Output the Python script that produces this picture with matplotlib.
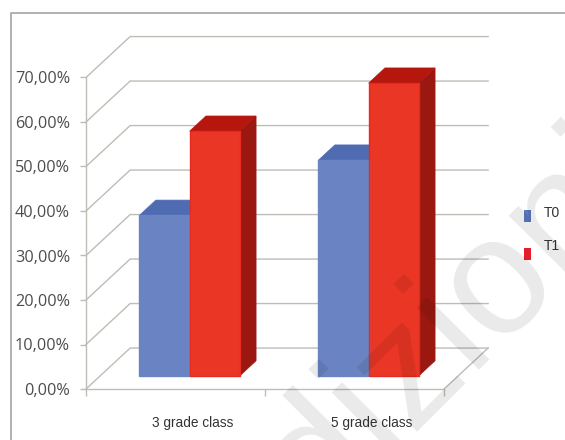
#!/usr/bin/env python3
"""Pseudo 3D column chart, T0 vs T1 by grade class"""

import matplotlib

matplotlib.use("Agg")
import matplotlib.pyplot as plt
from matplotlib.patches import Polygon, Rectangle

# Data
categories = ["3 grade class", "5 grade class"]
t0_values = [36.1, 48.5]
t1_values = [55.0, 65.8]
y_ticks = [0, 10, 20, 30, 40, 50, 60, 70]
y_tick_labels = ["0,00%", "10,00%", "20,00%", "30,00%", "40,00%", "50,00%", "60,00%", "70,00%"]
legend_labels = ["T0", "T1"]

W, H = 565, 440
GRID = "#bdbdb6"
TEXT = "#4d4d4d"

# how far the back wall sits from the front of the floor, in data units
DEPTH_X = 0.2465
DEPTH_Y = 9.2
BAR_W = 0.28
BAR_FRONT = 0.32
BAR_BACK = 0.69

fig = plt.figure(figsize=(W / 100, H / 100), dpi=100)
ax = fig.add_axes([86 / W, 1 - 389 / H, 358 / W, 311.5 / H])
ax.set_xlim(-0.5, 1.5)
ax.set_ylim(0, 70)
ax.patch.set_alpha(0)


def proj(x, y, d):
    """Shift a data point back by depth d (0 front, 1 back wall)"""
    return (x + DEPTH_X * d, y + DEPTH_Y * d)


def bar3d(left, value, front, top, side, edge):
    right = left + BAR_W
    quads = [
        ([(right, 0, BAR_FRONT), (right, 0, BAR_BACK), (right, value, BAR_BACK), (right, value, BAR_FRONT)], side),
        ([(left, value, BAR_FRONT), (right, value, BAR_FRONT), (right, value, BAR_BACK), (left, value, BAR_BACK)], top),
        ([(left, 0, BAR_FRONT), (right, 0, BAR_FRONT), (right, value, BAR_FRONT), (left, value, BAR_FRONT)], front),
    ]
    for pts, color in quads:
        ax.add_patch(
            Polygon([proj(*p) for p in pts], closed=True, facecolor=color, edgecolor=color, lw=0.5, zorder=3, clip_on=False)
        )
    # slightly darker bevel just inside the front face
    x0, y0 = proj(left, 0, BAR_FRONT)
    ax.add_patch(Rectangle((x0, y0), BAR_W, value, fill=False, edgecolor=edge, lw=1, zorder=3.1, clip_on=False))


# Back wall grid, side wall lines, floor
for v in y_ticks:
    x0, y0 = proj(-0.5, v, 0)
    x1, y1 = proj(-0.5, v, 1)
    x2, y2 = proj(1.5, v, 1)
    ax.plot([x0, x1, x2], [y0, y1, y2], color=GRID, lw=1, zorder=1, clip_on=False)
x0, y0 = proj(1.5, 0, 0)
x1, y1 = proj(1.5, 0, 1)
ax.plot([x0, x1], [y0, y1], color=GRID, lw=1, zorder=1, clip_on=False)

for i in range(len(categories)):
    bar3d(i - BAR_W, t0_values[i], "#6a84c3", "#4f6bb2", "#3f5694", "#6a84c3")
for i in range(len(categories)):
    bar3d(i, t1_values[i], "#ea3625", "#b5170f", "#9a1810", "#e62a1f")

# Axes
for name in ["top", "right"]:
    ax.spines[name].set_visible(False)
for name in ["left", "bottom"]:
    ax.spines[name].set_color(GRID)
    ax.spines[name].set_linewidth(1)
ax.set_yticks(y_ticks)
ax.set_yticklabels(y_tick_labels, fontsize=11.7, color=TEXT, family="Open Sans")
ax.tick_params(axis="y", length=4, width=1, color=GRID, pad=7.5)
ax.set_xticks([-0.5, 0.5, 1.5])
ax.set_xticklabels([])
ax.tick_params(axis="x", length=5, width=1, color=GRID)

# Category labels sit under the bars, not under the floor centre
for i, name in enumerate(categories):
    ax.text(i + 0.095, -7.6, name, ha="center", va="center", fontsize=9.8, color="#333333", family="Liberation Sans", clip_on=False)

# Legend, placed by hand because T1 text rides above its swatch
fig.add_artist(Rectangle((523.5 / W, 1 - 222 / H), 7.5 / W, 12 / H, transform=fig.transFigure, facecolor="#5b79bd", edgecolor="none"))
fig.add_artist(Rectangle((523.5 / W, 1 - 260 / H), 7.5 / W, 12 / H, transform=fig.transFigure, facecolor="#e3202a", edgecolor="none"))
fig.text(544 / W, 1 - 213 / H, legend_labels[0], fontsize=10, color="#333333", va="center", family="Liberation Sans")
fig.text(544 / W, 1 - 246 / H, legend_labels[1], fontsize=10, color="#333333", va="center", family="Liberation Sans")

# Outer chart frame, open on the right and bottom
fig.add_artist(plt.Line2D([10.5 / W, 10.5 / W, 1], [0, 1 - 13 / H, 1 - 13 / H], color="#ababab", lw=1.3))

# Publisher watermark across the page, starts below the bottom edge
fig.text(
    239 / W,
    1 - 597 / H,
    "Edizioni",
    fontsize=120,
    family="Liberation Sans",
    color="black",
    alpha=0.085,
    rotation=45,
    rotation_mode="anchor",
    ha="left",
    va="baseline",
    zorder=10,
)

fig.savefig("out.png", dpi=100, facecolor="white")
